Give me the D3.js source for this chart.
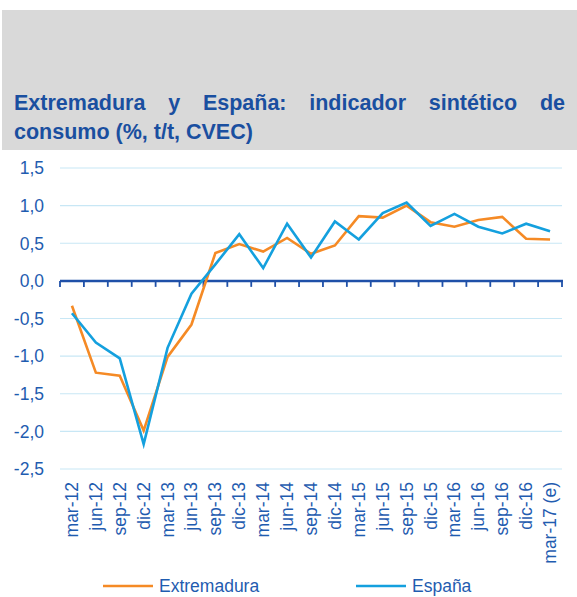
<!DOCTYPE html>
<html>
<head>
<meta charset="utf-8">
<script src="https://cdn.jsdelivr.net/npm/d3@7.9.0/dist/d3.min.js"></script>
<style>
  html, body { margin: 0; padding: 0; background: #fff; }
  svg { display: block; font-family: "Liberation Sans", Arial, sans-serif; }
</style>
</head>
<body>
<svg id="chart" width="577" height="597"></svg>
<script>
// --- data ---
const periods = ['mar-12','jun-12','sep-12','dic-12','mar-13','jun-13','sep-13','dic-13',
  'mar-14','jun-14','sep-14','dic-14','mar-15','jun-15','sep-15','dic-15',
  'mar-16','jun-16','sep-16','dic-16','mar-17 (e)'];
const extremadura = [-0.33,-1.22,-1.26,-1.99,-1.01,-0.58,0.37,0.49,0.39,0.57,0.36,0.47,
  0.86,0.84,1.00,0.78,0.72,0.81,0.85,0.56,0.55];
const espana = [-0.43,-0.82,-1.03,-2.17,-0.89,-0.17,0.22,0.62,0.17,0.76,0.31,0.79,
  0.55,0.90,1.04,0.73,0.89,0.72,0.63,0.76,0.66];
const yTicks = [1.5,1,0.5,0,-0.5,-1,-1.5,-2,-2.5];
const titleLines = ['Extremadura y España: indicador sintético de', 'consumo (%, t/t, CVEC)'];

const orange = '#f58a25', blue = '#14a0de';
const textBlue = '#1f5cb0', axisBlue = '#1f50a8';

const svg = d3.select('#chart');

// header box
svg.append('rect').attr('x', 2).attr('y', 10).attr('width', 575).attr('height', 140)
  .attr('fill', '#d9d9d9');

// title (first line justified)
const t1 = svg.append('text').attr('x', 14).attr('y', 110)
  .attr('fill', '#1a4fa0').attr('font-size', 21.5).attr('font-weight', 'bold')
  .text(titleLines[0]);
const natural = t1.node().getComputedTextLength();
const spaces = titleLines[0].split(' ').length - 1;
t1.attr('word-spacing', Math.max(0, (565 - 14 - natural) / spaces));
svg.append('text').attr('x', 14).attr('y', 139)
  .attr('fill', '#1a4fa0').attr('font-size', 21.5).attr('font-weight', 'bold')
  .text(titleLines[1]);

// scales
const x = d3.scaleBand().domain(periods).range([60, 562]);
const y = d3.scaleLinear().domain([-2.5, 1.5]).range([469, 168]);

// gridlines
svg.append('g').selectAll('line')
  .data(yTicks.filter(d => d !== 0))
  .join('line')
  .attr('x1', 60).attr('x2', 562)
  .attr('y1', d => y(d)).attr('y2', d => y(d))
  .attr('stroke', '#c8e7f5').attr('stroke-width', 1.2);

// y labels
svg.append('g').selectAll('text')
  .data(yTicks)
  .join('text')
  .attr('x', 44).attr('y', d => y(d)).attr('dy', '0.36em')
  .attr('text-anchor', 'end').attr('font-size', 17.5).attr('fill', textBlue)
  .text(d => d3.format('.1f')(d).replace('.', ',').replace('−', '-'));

// zero axis with ticks at band boundaries
const axis = svg.append('g');
const bounds = periods.map(p => x(p)).concat([x.range()[1]]);
axis.selectAll('line.tick')
  .data(bounds)
  .join('line')
  .attr('class', 'tick')
  .attr('x1', d => d).attr('x2', d => d)
  .attr('y1', y(0)).attr('y2', y(0) + 6)
  .attr('stroke', axisBlue).attr('stroke-width', 1.8);
axis.append('line')
  .attr('x1', 60).attr('x2', 563)
  .attr('y1', y(0)).attr('y2', y(0))
  .attr('stroke', axisBlue).attr('stroke-width', 2.5);

// x labels (rotated)
svg.append('g').selectAll('text')
  .data(periods)
  .join('text')
  .attr('transform', d => `translate(${x(d) + x.bandwidth() / 2 + 6},482) rotate(-90)`)
  .attr('text-anchor', 'end').attr('font-size', 17.5).attr('fill', textBlue)
  .text(d => d);

// lines
const line = d3.line()
  .x((d, i) => x(periods[i]) + x.bandwidth() / 2)
  .y(d => y(d));

svg.append('path').datum(extremadura)
  .attr('d', line).attr('fill', 'none')
  .attr('stroke', orange).attr('stroke-width', 2.6).attr('stroke-linejoin', 'miter');
svg.append('path').datum(espana)
  .attr('d', line).attr('fill', 'none')
  .attr('stroke', blue).attr('stroke-width', 2.6).attr('stroke-linejoin', 'miter');

// legend
const legend = [
  { name: 'Extremadura', color: orange, x: 103 },
  { name: 'España', color: blue, x: 356 }
];
const lg = svg.append('g').selectAll('g').data(legend).join('g')
  .attr('transform', d => `translate(${d.x},586)`);
lg.append('line').attr('x1', 0).attr('x2', 50).attr('y1', 0).attr('y2', 0)
  .attr('stroke', d => d.color).attr('stroke-width', 2.6);
lg.append('text').attr('x', 56).attr('dy', '0.36em')
  .attr('font-size', 17.5).attr('fill', textBlue)
  .text(d => d.name);
</script>
</body>
</html>
